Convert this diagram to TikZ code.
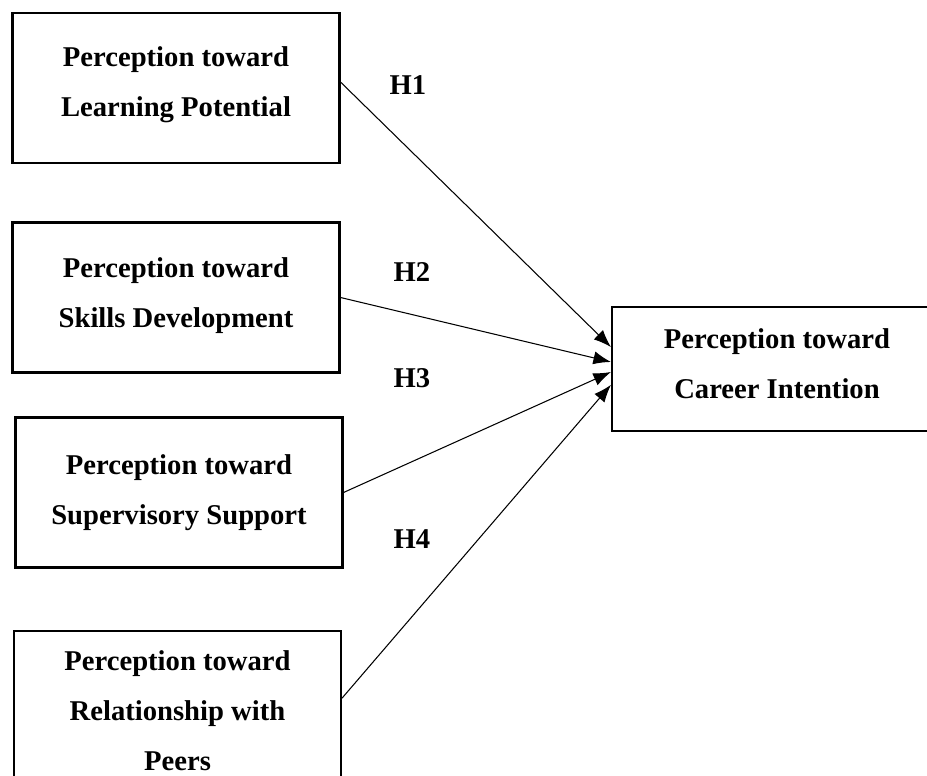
\documentclass[tikz,border=0pt]{standalone}
\usepackage{fontspec}
\setmainfont{Liberation Serif}
\usepackage{tikz}
\usetikzlibrary{arrows.meta}

\begin{document}
\begin{tikzpicture}[x=0.02cm, y=-0.02cm,
		box/.style={draw, line width=1.2pt, minimum width=6.54cm, minimum height=3cm,
			align=center, inner sep=0pt, font=\bfseries\fontsize{16.3}{28.4}\selectfont},
		hyp/.style={font=\bfseries\fontsize{16.3}{20}\selectfont},
		link/.style={line width=0.6pt, -{Latex[length=10pt,width=7.5pt]}}]
		\useasboundingbox (0,0) rectangle (927,775);
		\node[box, text depth=7pt] (lp) at (176,88) {Perception toward\\Learning Potential};
		\node[box, text depth=6pt] (sd) at (176,297.5) {Perception toward\\Skills Development};
		\node[box] (ss) at (179,492.5) {Perception toward\\Supervisory Support};
		\node[box, minimum height=3.2cm] (rp) at (177.5,711) {Perception toward\\Relationship with\\Peers};
		\node[box, minimum width=6.6cm, minimum height=2.48cm, text depth=5.7pt] (ci) at (777,369) {Perception toward\\Career Intention};
		\draw[link] ([yshift=3.4pt]lp.east) -- ([yshift=12.5pt]ci.west);
		\draw[link] (sd.east) -- ([yshift=4pt]ci.west);
		\draw[link] (ss.east) -- ([yshift=-1.7pt]ci.west);
		\draw[link] ([yshift=7.3pt]rp.east) -- ([yshift=-9pt]ci.west);
		\node[hyp] (h1) at (408,85) {H1};
		\node[hyp] (h2) at (412,272) {H2};
		\node[hyp] (h3) at (412,378) {H3};
		\node[hyp] (h4) at (412,539) {H4};
		\end{tikzpicture}
\end{document}
